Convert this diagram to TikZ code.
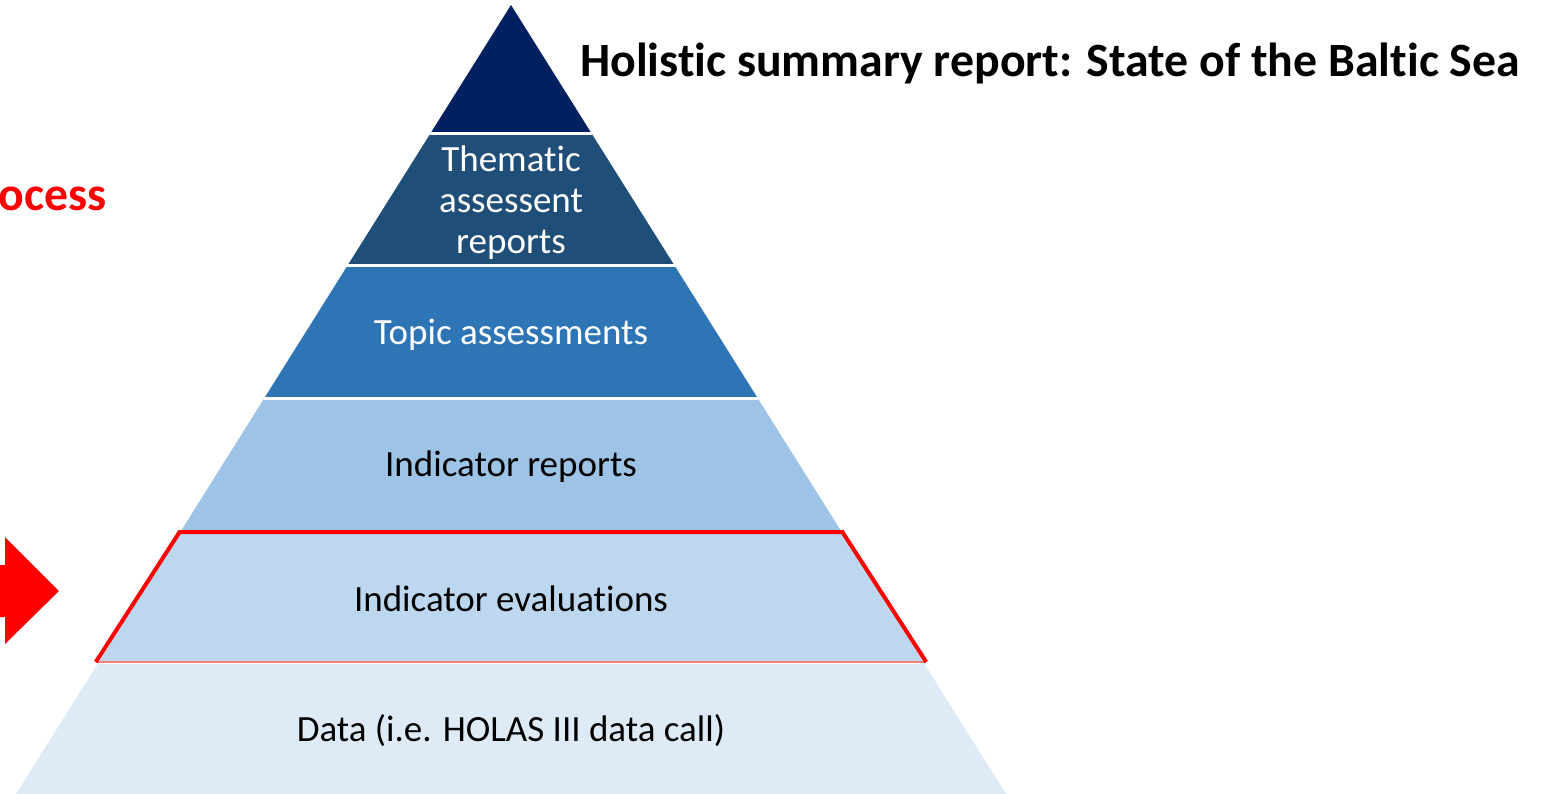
\documentclass[tikz,border=0pt]{standalone}
\usepackage{fontspec}
\setmainfont{Carlito}[Ligatures=NoCommon]
\definecolor{lay1}{RGB}{0,32,96}
\definecolor{lay2}{RGB}{31,78,121}
\definecolor{lay3}{RGB}{46,117,182}
\definecolor{lay4}{RGB}{157,195,230}
\definecolor{lay5}{RGB}{189,215,238}
\definecolor{lay6}{RGB}{222,235,247}
\definecolor{hired}{RGB}{255,0,0}
\tikzset{
  gapline/.style={draw=white, line width=3pt},
  lbl/.style={font=\fontsize{37}{41}\selectfont, align=center, inner sep=0pt},
  ttl/.style={font=\bfseries\fontsize{47.8}{58}\selectfont, inner sep=0pt},
  redframe/.style={draw=hired, line width=4pt, line join=miter},
}
\begin{document}
\begin{tikzpicture}[x=1pt,y=-1pt]
\useasboundingbox[fill=white] (0,0) rectangle (1542,794);
% level corners
\coordinate (apex) at (511,5);
\coordinate (l1) at (430.1,134); \coordinate (r1) at (591.9,134);
\coordinate (l2) at (347.2,266); \coordinate (r2) at (674.8,266);
\coordinate (l3) at (264.4,398); \coordinate (r3) at (757.6,398);
\coordinate (l4) at (181.6,530); \coordinate (r4) at (840.4,530);
\coordinate (l5) at (98.8,662);  \coordinate (r5) at (923.2,662);
\coordinate (l6) at (16,794);    \coordinate (r6) at (1006,794);
% layers
\fill[lay1] (apex) -- (r1) -- (l1) -- cycle;
\fill[lay2] (l1) -- (r1) -- (r2) -- (l2) -- cycle;
\fill[lay3] (l2) -- (r2) -- (r3) -- (l3) -- cycle;
\fill[lay4] (l3) -- (r3) -- (r4) -- (l4) -- cycle;
\fill[lay5] (l4) -- (r4) -- (r5) -- (l5) -- cycle;
\fill[lay6] (l5) -- (r5) -- (r6) -- (l6) -- cycle;
% white gaps
\draw[gapline] (l1) -- (r1);
\draw[gapline] (l2) -- (r2);
\draw[gapline] (l3) -- (r3);
\draw[gapline] (l5) -- (r5);
% red frame around indicator evaluations
\draw[hired, opacity=0.5, line width=1.5pt] ([xshift=-3pt]l5) -- ([xshift=3pt]r5);
\draw[redframe] ([xshift=-3pt]l5) -- ([xshift=-2pt,yshift=-2pt]l4) -- ([xshift=2pt,yshift=-2pt]r4) -- ([xshift=3pt]r5);
% labels
\node[lbl, text=white] (them) at (511,203) {Thematic\\assessent\\reports};
\node[lbl, text=white] (topic) at (511,335) {Topic assessments};
\node[lbl] (indrep) at (511,467) {Indicator reports};
\node[lbl] (indeval) at (511,599) {Indicator evaluations};
\node[lbl] (data) at (511,731) {Data (i.e. HOLAS III data call)};
% title
\node[ttl, anchor=base west] (title) at (580,77) {Holistic summary report: State of the Baltic Sea};
\node[ttl, text=hired, anchor=base east] (proc) at (107,211) {ocess};
% red block arrow
\fill[hired] (-2,565) -- (5,565) -- (5,537) -- (59,591) -- (5,644) -- (5,617) -- (-2,617) -- cycle;
\end{tikzpicture}
\end{document}
